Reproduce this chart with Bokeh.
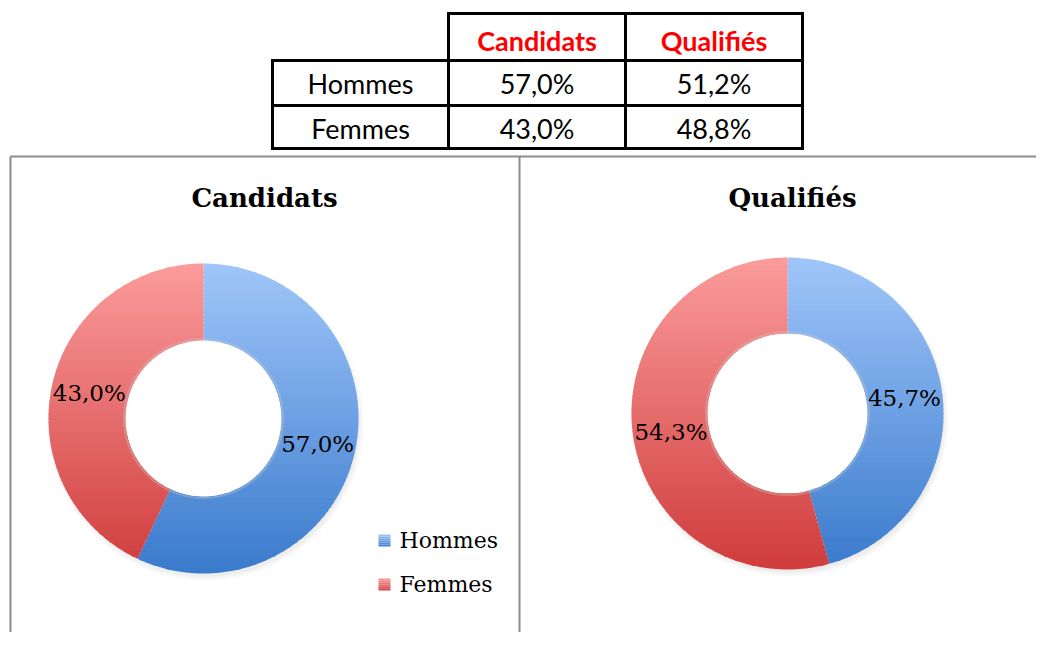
import numpy as np
from bokeh.plotting import figure
from bokeh.models import Range1d
from bokeh.embed import file_html
from bokeh.resources import INLINE
from bokeh.core.properties import value

# ---------------- data ----------------
groups = ["Hommes", "Femmes"]
table_columns = ["Candidats", "Qualifiés"]
table_candidats = ["57,0%", "43,0%"]
table_qualifies = ["51,2%", "48,8%"]
chart_titles = ["Candidats", "Qualifiés"]
candidats_share = [57.0, 43.0]
qualifies_share = [45.7, 54.3]

# ---------------- style / layout ----------------
GRAD = {"Hommes": ("#a0c6fa", "#3a7acc"), "Femmes": ("#fb9c9c", "#d03c3c")}
TABLE_FONT = value("Lato")
SERIF = value("DejaVu Serif")
W, H = 1036, 632
OX, OY = 0, 0

p = figure(width=W, height=H, x_range=Range1d(OX, OX + W), y_range=Range1d(OY + H, OY),
           output_backend="svg", toolbar_location=None, min_border=0,
           x_axis_type=None, y_axis_type=None)
p.grid.visible = False
p.outline_line_color = None
p.background_fill_color = "white"


def hex2rgb(h):
    h = h.lstrip("#")
    return np.array([int(h[i:i + 2], 16) for i in (0, 2, 4)], dtype=float)


def mix(c0, c1, t):
    a, b = hex2rgb(c0), hex2rgb(c1)
    c = a + (b - a) * t
    return "#%02x%02x%02x" % tuple(int(round(v)) for v in c)


def sector(cx, cy, r0, r1, a0, a1, n=160):
    t = np.linspace(a0, a1, n)
    xo = cx + r1 * np.sin(t)
    yo = cy - r1 * np.cos(t)
    xi = cx + r0 * np.sin(t[::-1])
    yi = cy - r0 * np.cos(t[::-1])
    return list(zip(np.r_[xo, xi], np.r_[yo, yi]))


def _inter(a, b, y0):
    t = (y0 - a[1]) / (b[1] - a[1])
    return (a[0] + t * (b[0] - a[0]), y0)


def clip(poly, y0, keep_ge):
    out = []
    n = len(poly)
    for i in range(n):
        cur, prev = poly[i], poly[i - 1]
        cin = cur[1] >= y0 if keep_ge else cur[1] <= y0
        pin = prev[1] >= y0 if keep_ge else prev[1] <= y0
        if cin:
            if not pin:
                out.append(_inter(prev, cur, y0))
            out.append(cur)
        elif pin:
            out.append(_inter(prev, cur, y0))
    return out


def donut(cx, cy, r0, r1, shares, names, label_r, label_override=None):
    # soft shadow
    for k, a in enumerate([0.05, 0.05, 0.05]):
        p.circle(x=[cx + 2], y=[cy + 4], radius=r1 + 3 - 2 * k, fill_color="#808080",
                 fill_alpha=a, line_color=None)
    p.circle(x=[cx], y=[cy], radius=r1, fill_color="white", line_color=None)
    total = float(sum(shares))
    start = 0.0
    nb = 70
    edges = np.linspace(cy - r1, cy + r1, nb + 1)
    xs, ys, cols = [], [], []
    for share, name in zip(shares, names):
        end = start + share / total * 2 * np.pi
        poly = sector(cx, cy, r0, r1, start, end)
        c0, c1 = GRAD[name]
        for b in range(nb):
            lo = edges[b] - (0.6 if b > 0 else 0)
            hi = edges[b + 1] + (0.6 if b < nb - 1 else 0)
            piece = clip(clip(poly, lo, True), hi, False)
            if len(piece) < 3:
                continue
            xs.append([q[0] for q in piece])
            ys.append([q[1] for q in piece])
            cols.append(mix(c0, c1, (b + 0.5) / nb))
        start = end
    p.patches(xs=xs, ys=ys, fill_color=cols, line_color=None)
    # inner rim shade of the hole
    p.circle(x=[cx], y=[cy], radius=r0 + 1.5, fill_color=None, line_color="#c8c8c8",
             line_alpha=0.35, line_width=2)
    # labels
    start = 0.0
    lx, ly, lt = [], [], []
    for share, name in zip(shares, names):
        span = share / total * 2 * np.pi
        mid = start + span / 2
        if label_override and name in label_override:
            mid = np.deg2rad(label_override[name])
        lx.append(cx + label_r * np.sin(mid))
        ly.append(cy - label_r * np.cos(mid))
        lt.append(("%.1f%%" % share).replace(".", ","))
        start += span
    p.text(x=lx, y=ly, text=lt, text_font=SERIF, text_font_size="23px",
           text_align="center", text_baseline="middle", text_color="#000000")


# ---------------- table ----------------
col_x = [272, 448, 625, 802]
lw = 3
segs = [
    (448, 13, 802, 13), (272, 60, 802, 60), (272, 105, 802, 105), (272, 148, 802, 148),
    (272, 60, 272, 148), (448, 13, 448, 148), (625, 13, 625, 148), (802, 13, 802, 148),
]
p.segment(x0=[s[0] for s in segs], y0=[s[1] for s in segs], x1=[s[2] for s in segs],
          y1=[s[3] for s in segs], line_color="black", line_width=lw, line_cap="square")

hx = [(col_x[1] + col_x[2]) / 2, (col_x[2] + col_x[3]) / 2]
p.text(x=hx, y=[40, 40], text=table_columns, text_font=TABLE_FONT, text_font_style="bold",
       text_font_size="27px", text_align="center", text_baseline="middle", text_color="#ff0000")
ry = [83, 128]
p.text(x=[(col_x[0] + col_x[1]) / 2] * 2, y=ry, text=groups, text_font=TABLE_FONT,
       text_font_size="27px", text_align="center", text_baseline="middle", text_color="#000000")
p.text(x=[hx[0]] * 2, y=ry, text=table_candidats, text_font=TABLE_FONT,
       text_font_size="27px", text_align="center", text_baseline="middle", text_color="#000000")
p.text(x=[hx[1]] * 2, y=ry, text=table_qualifies, text_font=TABLE_FONT,
       text_font_size="27px", text_align="center", text_baseline="middle", text_color="#000000")

# ---------------- panels ----------------
p.segment(x0=[10, 10, 519], y0=[156, 156, 156], x1=[10, 1050, 519], y1=[652, 156, 652],
          line_color="#8c8c8c", line_width=2)

p.text(x=[264, 792], y=[197, 197], text=chart_titles, text_font=SERIF, text_font_style="bold",
       text_font_size="26px", text_align="center", text_baseline="middle", text_color="#000000")

donut(203, 418, 78, 155, candidats_share, groups, 117)
donut(787, 413, 80, 156, qualifies_share, groups, 118, label_override={"Femmes": 261})

# ---------------- legend ----------------
leg_y = [540, 584]
for name, yy in zip(groups, leg_y):
    c0, c1 = GRAD[name]
    nb = 6
    e = np.linspace(yy - 6, yy + 6, nb + 1)
    p.quad(left=[378] * nb, right=[390] * nb, top=list(e[:-1]), bottom=list(e[1:]),
           fill_color=[mix(c0, c1, (k + 0.5) / nb) for k in range(nb)],
           line_color=None)
p.text(x=[399, 399], y=leg_y, text=groups, text_font=SERIF, text_font_size="22px",
       text_align="left", text_baseline="middle", text_color="#000000")

open("out.html", "w").write(file_html(p, INLINE))
